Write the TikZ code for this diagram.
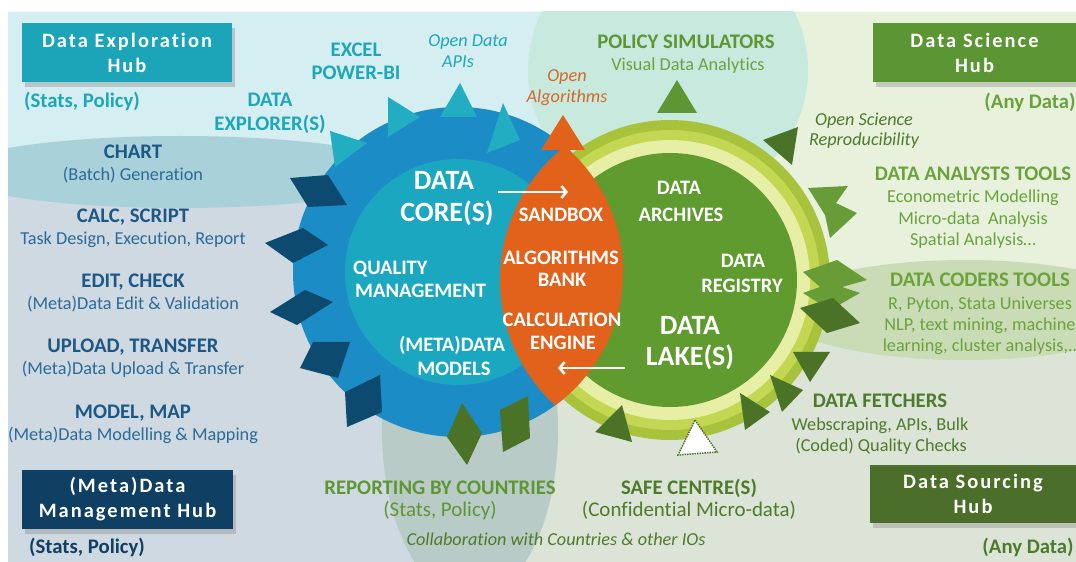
\documentclass[tikz,border=0pt]{standalone}
\usepackage{fontspec}
\setmainfont{Carlito}[Ligatures=NoCommon]
\usepackage{tikz}
\usetikzlibrary{arrows,arrows.meta,shadows}
\usetikzlibrary{positioning}

\definecolor{bgcyan}{HTML}{D4EEF1}
\definecolor{bgblue}{HTML}{CED9E1}
\definecolor{bglime}{HTML}{E7F1DC}
\definecolor{bgsage}{HTML}{DCE4D7}
\definecolor{bgchart}{HTML}{A9D1D9}
\definecolor{bgpolicy}{HTML}{C8E9DE}
\definecolor{bgreport}{HTML}{B8CBC6}
\definecolor{bgcoders}{HTML}{C9DCB6}
\definecolor{ringblue}{HTML}{1B8CC5}
\definecolor{coreteal}{HTML}{1CA7C1}
\definecolor{toothnavy}{HTML}{0C4A6F}
\definecolor{toothcyan}{HTML}{22ADC3}
\definecolor{lensorange}{HTML}{E2611B}
\definecolor{lakegreen}{HTML}{5F9B2F}
\definecolor{ringpale}{HTML}{E7EEA6}
\definecolor{ringlime}{HTML}{C3D753}
\definecolor{ringolive}{HTML}{A8C23B}
\definecolor{toothdark}{HTML}{4A7327}
\definecolor{toothmid}{HTML}{689C36}
\definecolor{txtteal}{HTML}{1EA6B9}
\definecolor{txtnavy}{HTML}{1C5786}
\definecolor{txtnavysub}{HTML}{2C6A97}
\definecolor{txtorange}{HTML}{D2692A}
\definecolor{txtgreen}{HTML}{5E9633}
\definecolor{txtlight}{HTML}{6BA23C}
\definecolor{txtdark}{HTML}{4D7B2B}
\definecolor{hubteal}{HTML}{1CA5B8}
\definecolor{hubnavy}{HTML}{0F3F62}
\definecolor{hubgreen}{HTML}{5C9533}
\definecolor{hubolive}{HTML}{4B6E2A}

\tikzstyle{hub} = [rectangle, minimum width=210bp, minimum height=59bp, inner sep=0pt, align=center, text=white, font=\fontsize{20.5}{25}\selectfont\bfseries\addfontfeature{LetterSpace=10}, drop shadow={shadow xshift=3bp, shadow yshift=-5bp, opacity=0.35}]
\tikzstyle{headtxt} = [anchor=base, inner sep=0pt, font=\fontsize{20.8}{24}\selectfont\bfseries]
\tikzstyle{subtxt} = [anchor=base, inner sep=0pt, font=\fontsize{18.3}{21}\selectfont]
\tikzstyle{subbig} = [anchor=base, inner sep=0pt, font=\fontsize{21}{24}\selectfont]
\tikzstyle{italtxt} = [anchor=base, inner sep=0pt, font=\fontsize{18.3}{21}\selectfont\itshape]
\tikzstyle{whitetxt} = [anchor=base, inner sep=0pt, text=white, font=\fontsize{20.6}{24}\selectfont\bfseries]
\tikzstyle{bigtxt} = [anchor=base, inner sep=0pt, text=white, font=\fontsize{28}{30}\selectfont\bfseries]
\tikzstyle{flow} = [white, line width=2.5bp, -{Straight Barb[length=5bp, width=12bp]}]

\begin{document}
\begin{tikzpicture}[x=1bp, y=-1bp]

\useasboundingbox (0,0) rectangle (1076,562);
\fill[white] (0,0) rectangle (1076,562);

% backgrounds
\fill[bgblue] (8,12) -- (560,12) -- (560,250) -- (470,250) -- (470,562) -- (8,562) -- cycle;
\fill[bgcyan] (8,12) rectangle (560,172);
\fill[bgsage] (560,12) -- (1076,12) -- (1076,562) -- (470,562) -- (470,250) -- (560,250) -- cycle;
\fill[bglime] (560,12) rectangle (1076,310);
\begin{scope}
\clip (8,12) rectangle (1076,562);
\fill[bgchart] (180,172) ellipse (230 and 36);
\fill[bgpolicy] (668,70) ellipse (140 and 135);
\fill[bgreport] (470,430) ellipse (88 and 170);
\fill[bgcoders] (965,310) ellipse (190 and 50);
\end{scope}

% gears
\fill[ringblue] (458,272) circle (165);
\fill[ringblue] (505,118) -- (540,148) -- (522,178) -- cycle;
\fill[ringolive] (670,280) circle (160);
\fill[ringlime] (670,280) circle (150);
\fill[ringpale] (670,280) circle (140);
\fill[lakegreen] (670,280) circle (127);
\fill[coreteal] (458,272) circle (113);
\begin{scope}
\clip (458,272) circle (165);
\fill[lensorange] (670,280) circle (170);
\end{scope}
\fill[lensorange] (563,115) -- (585,150) -- (541,150) -- cycle;

% teeth
\fill[toothnavy] (290,178) -- (328,175) -- (347,205) -- (308,207) -- cycle;
\fill[toothnavy] (265,243) -- (303,228) -- (328,245) -- (293,263) -- cycle;
\fill[toothnavy] (270,312) -- (305,290) -- (333,302) -- (297,325) -- cycle;
\fill[toothnavy] (300,368) -- (313,342) -- (350,342) -- (338,378) -- cycle;
\fill[toothnavy] (345,392) -- (380,375) -- (382,412) -- (347,427) -- cycle;
\fill[toothcyan] (330,131) -- (367,143) -- (335,167) -- cycle;
\fill[toothcyan] (388,97) -- (420,117) -- (388,137) -- cycle;
\fill[toothcyan] (460,83) -- (477,117) -- (440,117) -- cycle;
\fill[toothcyan] (503,103) -- (520,140) -- (487,153) -- cycle;
\fill[toothdark] (462,403) -- (482,433) -- (467,465) -- (447,437) -- cycle;
\fill[toothdark] (500,410) -- (528,396) -- (530,438) -- (503,452) -- cycle;
\fill[txtgreen] (677,80) -- (697,113) -- (657,113) -- cycle;
\fill[toothdark] (763,140) -- (798,127) -- (792,165) -- cycle;
\fill[toothmid] (808,188) -- (848,186) -- (836,203) -- (857,213) -- (830,238) -- (825,215) -- cycle;
\fill[toothmid] (803,272) -- (837,260) -- (867,280) -- (842,287) -- (860,293) -- (830,310) -- (803,293) -- (820,287) -- cycle;
\fill[toothdark] (800,308) -- (833,298) -- (860,323) -- (827,333) -- cycle;
\fill[toothdark] (793,352) -- (830,352) -- (810,382) -- cycle;
\fill[toothdark] (770,375) -- (803,390) -- (782,412) -- cycle;
\fill[toothdark] (740,393) -- (770,412) -- (745,430) -- cycle;
\fill[toothdark] (595,432) -- (622,405) -- (632,442) -- cycle;
\filldraw[fill=white, draw=toothdark, densely dotted, line width=1.5bp] (695,420) -- (717,452) -- (678,455) -- cycle;

% hubs
\node (hubexp) [hub, fill=hubteal] at (127,52.5) {Data Exploration\\Hub};
\node (hubmeta) [hub, fill=hubnavy] at (127.5,499.5) {(Meta)Data\\Management Hub};
\node (hubsci) [hub, fill=hubgreen, minimum width=203bp] at (974.5,52.5) {Data Science\\Hub};
\node (hubsrc) [hub, fill=hubolive, minimum width=206bp, minimum height=58bp] at (973,494) {Data Sourcing\\Hub};
\node (expnote) [headtxt, text=txtteal] at (82,108) {(Stats, Policy)};
\node (metanote) [headtxt, text=hubnavy] at (87,553) {(Stats, Policy)};
\node (scinote) [headtxt, text=txtlight] at (1030,109) {(Any Data)};
\node (srcnote) [headtxt, text=txtdark] at (1028,553) {(Any Data)};

% left tools
\node (chartH) [headtxt, text=txtnavy] at (133,159) {CHART};
\node (chartS) [subtxt, text=txtnavysub] at (133,181) {(Batch) Generation};
\node (calcH) [headtxt, text=txtnavy] at (133,223) {CALC, SCRIPT};
\node (calcS) [subtxt, text=txtnavysub] at (133,245) {Task Design, Execution, Report};
\node (editH) [headtxt, text=txtnavy] at (133,288) {EDIT, CHECK};
\node (editS) [subtxt, text=txtnavysub] at (133,310) {(Meta)Data Edit \& Validation};
\node (uplH) [headtxt, text=txtnavy] at (133,353) {UPLOAD, TRANSFER};
\node (uplS) [subtxt, text=txtnavysub] at (133,375) {(Meta)Data Upload \& Transfer};
\node (modH) [headtxt, text=txtnavy] at (133,418) {MODEL, MAP};
\node (modS) [subtxt, text=txtnavysub] at (133,440) {(Meta)Data Modelling \& Mapping};

% top tools
\node (explA) [headtxt, text=txtteal] at (270,107) {DATA};
\node (explB) [headtxt, text=txtteal] at (270,131) {EXPLORER(S)};
\node (excelA) [headtxt, text=txtteal] at (356,57) {EXCEL};
\node (excelB) [headtxt, text=txtteal] at (356,80) {POWER-BI};
\node (apiA) [italtxt, text=txtteal] at (468,47) {Open Data};
\node (apiB) [italtxt, text=txtteal] at (458,68) {APIs};
\node (algoA) [italtxt, text=txtorange] at (567,82) {Open};
\node (algoB) [italtxt, text=txtorange] at (567,103) {Algorithms};
\node (polA) [headtxt, text=txtgreen] at (686,49) {POLICY SIMULATORS};
\node (polB) [subtxt, text=txtlight] at (688,71) {Visual Data Analytics};

% right tools
\node (sciA) [italtxt, text=txtdark] at (864,126) {Open Science};
\node (sciB) [italtxt, text=txtdark] at (864,146) {Reproducibility};
\node (anaH) [headtxt, text=txtlight] at (973,181) {DATA ANALYSTS TOOLS};
\node (anaA) [subtxt, text=txtlight] at (973,203) {Econometric Modelling};
\node (anaB) [subtxt, text=txtlight] at (973,225) {Micro-data\ \ Analysis};
\node (anaC) [subtxt, text=txtlight] at (973,246) {Spatial Analysis…};
\node (codH) [headtxt, text=txtlight] at (980,287) {DATA CODERS TOOLS};
\node (codA) [subtxt, text=txtlight] at (980,310) {R, Pyton, Stata Universes};
\node (codB) [subtxt, text=txtlight] at (980,331) {NLP, text mining, machine};
\node (codC) [subtxt, text=txtlight] at (980,352) {learning, cluster analysis,..};
\node (fetH) [headtxt, text=txtdark] at (880,407) {DATA FETCHERS};
\node (fetA) [subtxt, text=txtdark] at (880,430) {Webscraping, APIs, Bulk};
\node (fetB) [subtxt, text=txtdark] at (881,451) {(Coded) Quality Checks};

% bottom
\node (repH) [headtxt, text=txtgreen] at (440,494) {REPORTING BY COUNTRIES};
\node (repS) [subbig, text=txtgreen] at (440,516) {(Stats, Policy)};
\node (safeH) [headtxt, text=txtdark] at (689,494) {SAFE CENTRE(S)};
\node (safeS) [subbig, text=txtdark] at (689,516) {(Confidential Micro-data)};
\node (collab) [italtxt, text=txtdark] at (556,545) {Collaboration with Countries \& other IOs};

% inside the gears
\node (coreA) [bigtxt] at (444,190) {DATA};
\node (coreB) [bigtxt] at (447,222) {CORE(S)};
\node (qualA) [whitetxt, anchor=base west] at (353,275) {QUALITY};
\node (qualB) [whitetxt, anchor=base west] at (355,298) {MANAGEMENT};
\node (metaA) [whitetxt] at (452,352) {(META)DATA};
\node (metaB) [whitetxt] at (454,376) {MODELS};
\node (sandbox) [whitetxt] at (561,222) {SANDBOX};
\node (bankA) [whitetxt] at (561,265) {ALGORITHMS};
\node (bankB) [whitetxt] at (562,287) {BANK};
\node (engA) [whitetxt] at (562,327) {CALCULATION};
\node (engB) [whitetxt] at (563,350) {ENGINE};
\node (archA) [whitetxt] at (679,195) {DATA};
\node (archB) [whitetxt] at (681,222) {ARCHIVES};
\node (regA) [whitetxt] at (743,268) {DATA};
\node (regB) [whitetxt] at (742,293) {REGISTRY};
\node (lakeA) [bigtxt] at (690,335) {DATA};
\node (lakeB) [bigtxt] at (690,366) {LAKE(S)};

\coordinate (coreOut) at (498,192);
\coordinate (lensIn) at (568,192);
\coordinate (lakeOut) at (625,368);
\coordinate (lensOut) at (558,368);
\draw[flow] (coreOut) -- (lensIn);
\draw[flow] (lakeOut) -- (lensOut);

\end{tikzpicture}
\end{document}
